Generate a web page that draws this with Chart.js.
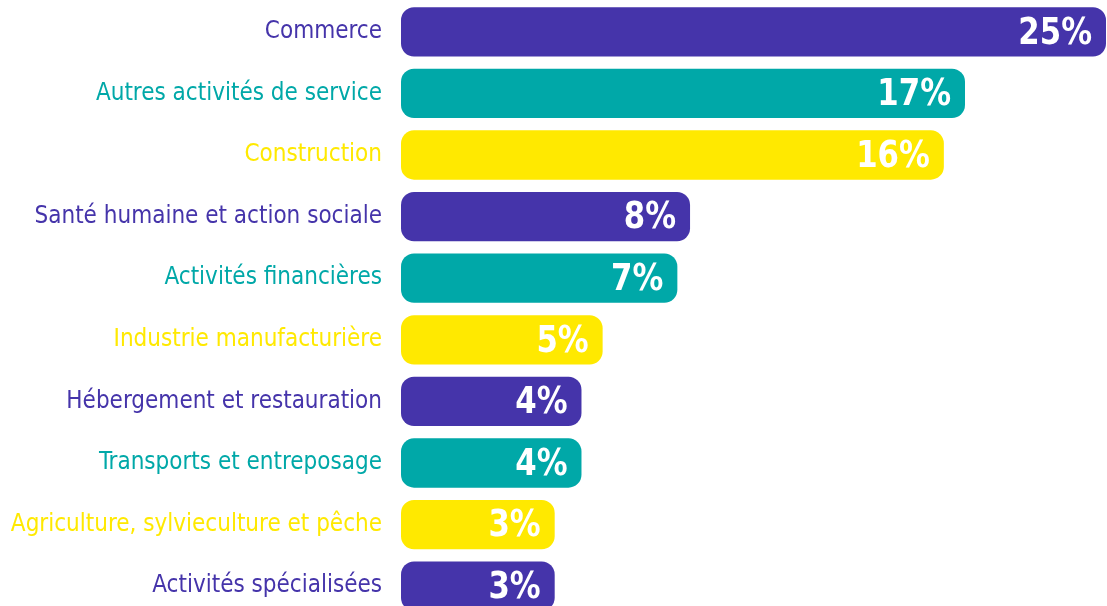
<!DOCTYPE html>
<html>
<head>
<meta charset="utf-8">
<script src="https://cdn.jsdelivr.net/npm/chart.js@4"></script>
<style>
    html, body { margin: 0; padding: 0; background: #ffffff; overflow: hidden; }
    #wrap { width: 1107px; height: 606px; overflow: hidden; }
</style>
</head>
<body>
<div id="wrap">
    <canvas id="chart" width="1107" height="617"></canvas>
</div>
<script>
// secteurs d'activité
var categories = [
    'Commerce',
    'Autres activités de service',
    'Construction',
    'Santé humaine et action sociale',
    'Activités financières',
    'Industrie manufacturière',
    'Hébergement et restauration',
    'Transports et entreposage',
    'Agriculture, sylvieculture et pêche',
    'Activités spécialisées'
];
// longueur des barres
var barLengths = [25, 20.0, 19.25, 10.25, 9.8, 7.15, 6.4, 6.4, 5.45, 5.45];
// étiquettes affichées
var percentLabels = ['25%', '17%', '16%', '8%', '7%', '5%', '4%', '4%', '3%', '3%'];

var palette = ['#4534AA', '#00A8A8', '#FFE900'];
var barColors = categories.map((c, i) => palette[i % 3]);

var fontFamily = "'DejaVu Sans Condensed', 'DejaVu Sans', sans-serif";

const valueLabels = {
    id: 'valueLabels',
    afterDatasetsDraw(chart) {
        const ctx = chart.ctx;
        const meta = chart.getDatasetMeta(0);
        ctx.save();
        ctx.fillStyle = '#ffffff';
        ctx.font = 'bold 38px ' + fontFamily;
        ctx.textAlign = 'right';
        ctx.textBaseline = 'middle';
        meta.data.forEach((bar, i) => {
            ctx.save();
            ctx.translate(bar.x - 14, bar.y + 2);
            ctx.scale(0.9, 1);
            ctx.fillText(percentLabels[i], 0, 0);
            ctx.restore();
        });
        ctx.restore();
    }
};

new Chart(document.getElementById('chart').getContext('2d'), {
    type: 'bar',
    data: {
        labels: categories,
        datasets: [{
            data: barLengths,
            backgroundColor: barColors,
            borderRadius: 13,
            borderSkipped: false,
            categoryPercentage: 1,
            barPercentage: 0.8
        }]
    },
    options: {
        indexAxis: 'y',
        responsive: false,
        maintainAspectRatio: false,
        animation: false,
        layout: { padding: { top: 1, right: 1, bottom: 0, left: 0 } },
        plugins: {
            legend: { display: false },
            tooltip: { enabled: false }
        },
        scales: {
            x: {
                min: 0,
                max: 25,
                display: false
            },
            y: {
                grid: { display: false, drawTicks: false },
                border: { display: false },
                afterFit(scale) {
                    scale.width = 401;
                    // pas de marge pour les libellés extrêmes
                    scale.paddingTop = 0;
                    scale.paddingBottom = 0;
                },
                ticks: {
                    padding: 19,
                    color: (c) => palette[c.index % 3],
                    font: { family: fontFamily, size: 24 }
                }
            }
        }
    },
    plugins: [valueLabels]
});
</script>
</body>
</html>
